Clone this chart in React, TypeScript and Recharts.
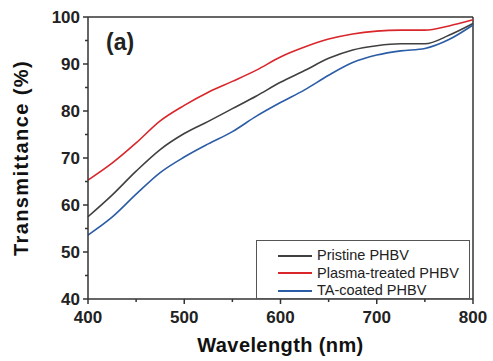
/**
 * Transmittance spectra of PHBV films (panel a)
 */

import { Label, Legend, Line, LineChart, ReferenceLine, XAxis, YAxis } from "recharts"

/******************************************************************************
                              Data
******************************************************************************/

const WAVELENGTH = [
  400, 425, 450, 475, 500, 525, 550, 575, 600, 625, 650, 675, 700, 725, 750,
  775, 800,
]
const PRISTINE = [
  57.5, 62.1, 67.2, 71.8, 75.2, 77.8, 80.5, 83.2, 86.1, 88.6, 91.2, 93.0, 93.9,
  94.3, 94.3, 96.1, 98.6,
]
const PLASMA = [
  65.3, 68.9, 73.2, 77.9, 81.2, 84.0, 86.3, 88.7, 91.5, 93.6, 95.3, 96.4, 97.0,
  97.2, 97.2, 98.1, 99.4,
]
const TA_COATED = [
  53.6, 57.4, 62.3, 66.9, 70.2, 73.0, 75.6, 78.9, 81.8, 84.5, 87.6, 90.3, 91.9,
  92.8, 93.3, 95.2, 98.3,
]

const SERIES_KEYS = ["pristine", "plasma", "ta"]
const SERIES_NAMES = ["Pristine PHBV", "Plasma-treated PHBV", "TA-coated PHBV"]
const SERIES_COLORS = ["#404040", "#d9262b", "#2b5ca6"]

const X_TICKS = [400, 450, 500, 550, 600, 650, 700, 750, 800]
const Y_TICKS = [40, 45, 50, 55, 60, 65, 70, 75, 80, 85, 90, 95, 100]

/******************************************************************************
                              Constants
******************************************************************************/

const AXIS_COLOR = "#333"
const FONT = "'Liberation Sans', Arial, sans-serif"

const chartData = WAVELENGTH.map((w, i) => ({
  w,
  pristine: PRISTINE[i],
  plasma: PLASMA[i],
  ta: TA_COATED[i],
}))

/******************************************************************************
                              Components
******************************************************************************/

function XTick(props: any) {
  const { x, y, payload } = props
  const major = payload.value % 100 === 0
  return (
    <g>
      <line x1={x} x2={x} y1={y} y2={y + (major ? 5 : 3)} stroke={AXIS_COLOR} strokeWidth={1.5} />
      {major && (
        <text x={x} y={y + 24} textAnchor="middle" fontSize={17} fontWeight="bold" fontFamily={FONT} fill="#222">
          {payload.value}
        </text>
      )}
    </g>
  )
}

function YTick(props: any) {
  const { x, y, payload } = props
  const major = payload.value % 10 === 0
  return (
    <g>
      <line x1={x} x2={x - (major ? 5 : 3)} y1={y} y2={y} stroke={AXIS_COLOR} strokeWidth={1.5} />
      {major && (
        <text x={x - 8} y={y + 6} textAnchor="end" fontSize={17} fontWeight="bold" fontFamily={FONT} fill="#222">
          {payload.value}
        </text>
      )}
    </g>
  )
}

function LegendBox() {
  return (
    <div
      style={{
        width: 214,
        height: 59,
        border: "1px solid #555",
        background: "#fff",
        boxSizing: "border-box",
        paddingTop: 6,
        fontFamily: FONT,
        fontSize: 14.5,
        color: "#222",
      }}
    >
      {SERIES_NAMES.map((name, i) => (
        <div key={name} style={{ display: "flex", alignItems: "center", height: 17.6 }}>
          <span style={{ display: "inline-block", marginLeft: 21, width: 34, height: 2, background: SERIES_COLORS[i] }} />
          <span style={{ marginLeft: 5, lineHeight: "17px" }}>{name}</span>
        </div>
      ))}
    </div>
  )
}

export default function App() {
  return (
    <div style={{ position: "absolute", left: 0, top: 0, width: 493, height: 361, background: "#fff" }}>
      <LineChart
        width={493}
        height={361}
        data={chartData}
        margin={{ top: 17, right: 20, bottom: 0, left: 0 }}
      >
        <XAxis
          dataKey="w"
          type="number"
          domain={[400, 800]}
          ticks={X_TICKS}
          interval={0}
          height={62}
          tickSize={0}
          tickMargin={0}
          tick={<XTick />}
          stroke={AXIS_COLOR}
          strokeWidth={1.5}
        >
          <Label
            content={(p: any) => {
              const vb = p.viewBox
              return (
                <text
                  x={vb.x + vb.width / 2}
                  y={vb.y + 53}
                  textAnchor="middle"
                  fontSize={20}
                  fontWeight="bold"
                  letterSpacing={0.4}
                  fontFamily={FONT}
                  fill="#111"
                >
                  Wavelength (nm)
                </text>
              )
            }}
          />
        </XAxis>
        <YAxis
          type="number"
          domain={[40, 100]}
          ticks={Y_TICKS}
          interval={0}
          width={88}
          tickSize={0}
          tickMargin={0}
          tick={<YTick />}
          stroke={AXIS_COLOR}
          strokeWidth={1.5}
        >
          <Label
            content={(p: any) => {
              const vb = p.viewBox
              const cx = vb.x + 28
              const cy = vb.y + vb.height / 2
              return (
                <text
                  x={cx}
                  y={cy}
                  transform={`rotate(-90 ${cx} ${cy})`}
                  textAnchor="middle"
                  fontSize={20}
                  fontWeight="bold"
                  letterSpacing={1.4}
                  fontFamily={FONT}
                  fill="#111"
                >
                  Transmittance (%)
                </text>
              )
            }}
          />
        </YAxis>
        <ReferenceLine y={100} stroke={AXIS_COLOR} strokeWidth={1.5} ifOverflow="visible" />
        <ReferenceLine x={800} stroke={AXIS_COLOR} strokeWidth={1.5} ifOverflow="visible" />
        <Legend
          layout="horizontal"
          verticalAlign="middle"
          align="center"
          content={<LegendBox />}
          wrapperStyle={{ left: 256, top: 240, width: 214, height: 59 }}
        />
        {SERIES_KEYS.map((key, i) => (
          <Line
            key={key}
            type="monotone"
            dataKey={key}
            name={SERIES_NAMES[i]}
            stroke={SERIES_COLORS[i]}
            strokeWidth={1.6}
            dot={false}
            isAnimationActive={false}
          />
        ))}
      </LineChart>
      <div
        style={{
          position: "absolute",
          left: 106,
          top: 28,
          fontFamily: FONT,
          fontSize: 23,
          fontWeight: "bold",
          color: "#222",
          lineHeight: "28px",
        }}
      >
        (a)
      </div>
    </div>
  )
}
